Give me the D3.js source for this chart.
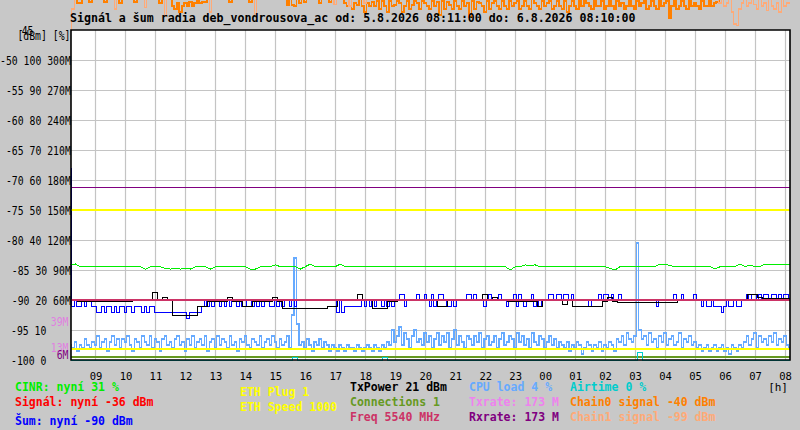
<!DOCTYPE html>
<html>
<head>
<meta charset="utf-8">
<script src="https://d3js.org/d3.v7.min.js"></script>
<style>
html,body{margin:0;padding:0;background:#c8c8c8;}
svg{display:block;}
text{font-family:"DejaVu Sans Mono",monospace;}
</style>
</head>
<body>
<svg id="chart" width="800" height="430"></svg>
<script>
// ================= DATA =================
const titleText = "Signál a šum radia deb_vondrousova_ac od: 5.8.2026 08:11:00 do: 6.8.2026 08:10:00";
const rangeStart = new Date(2026, 7, 5, 8, 11);
const rangeEnd = new Date(2026, 7, 6, 8, 10);
const seriesStart = new Date(2026, 7, 5, 8, 10);

// left axis tick labels (dBm / % / M)
const dbmTicks = [-50, -55, -60, -65, -70, -75, -80, -85, -90, -95, -100];
const pctTickLabels = ["100", "90", "80", "70", "60", "50", "40", "30", "20", "10", "0"];
const mTickLabels = ["300M", "270M", "240M", "210M", "180M", "150M", "120M", "90M", "60M", "", ""];
const unitLabel = "[dBm] [%]";
const topLabel = "45";
const rateMarkLabels = ["39M", "13M", "6M"];
const rateMarkValues = [39, 13, 6];
const hourUnit = "[h]";

// legend
const legendTexts = ["CINR: nyní 31 %", "Signál: nyní -36 dBm", "Šum: nyní -90 dBm",
  "ETH Plug 1", "ETH Speed 1000",
  "TxPower 21 dBm", "Connections 1", "Freq 5540 MHz",
  "CPU load 4 %", "Txrate: 173 M", "Rxrate: 173 M",
  "Airtime 0 %", "Chain0 signal -40 dBm", "Chain1 signal -99 dBm"];

// CINR [%], every 10 min
const cinr = [31.7,32,31.1,31.1,31.1,31.1,31.1,31.1,31.1,31.1,
  31.1,31.1,31.1,31.1,31.1,30.3,31.1,31.1,31.1,30.5,
  30.3,30.5,30.3,30.5,30.3,31.1,31.1,31.1,30.3,31.1,
  31.1,31.1,31.1,31.1,31.1,31.1,30.3,30.3,31.1,31.1,
  31.1,31.7,31.1,31.1,31.1,31.1,30.3,31.1,32,31.1,
  31.1,31.1,31.1,31.1,32,31.1,31.1,31.1,31.1,31.1,
  31.1,31.1,31.1,31.1,31.1,31.1,31.1,31.1,31.1,31.1,
  31.1,31.1,31.1,31.1,31.1,31.1,31.1,31.1,31.1,31.1,
  31.1,31.1,31.1,31.1,31.1,31.1,31.1,31.1,30,31.1,
  31.1,31.7,31.5,31.7,31.1,31.1,31.1,31.1,31.1,31.1,
  31.1,31.1,31.1,31.1,31.1,31.1,31.1,31.1,30.5,30,
  31.1,31.1,31.1,31.1,31.1,31.1,31.1,31.1,32,32,
  31.5,31.1,31.1,31.1,31.1,31.1,31.1,31.1,31.1,30.3,
  31.1,31.1,31.1,31.1,32,31.1,31.7,31.1,31.1,32,
  31.8,32,32,32,32];

// Šum (noise) [dBm], every 5 min
const noise = [-68,
  -91,-90,-91,-91,-90,-91,-90,-90,-91,-91,
  -92,-92,-91,-92,-91,-91,-92,-91,-92,-91,
  -91,-92,-91,-91,-92,-91,-91,-91,-92,-91,
  -92,-91,-91,-92,-92,
  -92,-92,-92,-92,-92,-92,-92,-92,-92,-92,
  -92,-93,-92,-92,-92,-92,-92,-91,
  -90,-91,-90,-91,-90,-90,-91,-90,-91,-90,
  -91,-90,-90,-91,-90,-91,-91,-90,-90,-91,
  -90,-91,-90,-91,-90,-90,-91,-91,-90,-91,
  -90,-91,-90,-90,-91,-90,-91,
  -90,-90,-90,-90,-90,-90,-90,-90,-90,-90,-90,-90,-90,-90,-90,-90,
  -92,-90,-92,-91,-91,-91,-91,-91,-91,-91,
  -90,-91,-90,-91,-90,-91,-90,-90,-91,-90,-91,-90,-91,-90,
  -90,-89,-89,-91,-90,-90,-90,-90,-89,-90,
  -90,-89,-90,-91,-89,-91,-90,-89,-89,-90,
  -91,-91,-90,-91,-90,-90,-90,-90,-89,-89,
  -90,-89,-90,-90,-90,-91,-90,-89,-90,-90,
  -90,-89,-90,-90,-91,-90,-90,-89,-91,-89,
  -90,-91,-90,-90,-89,-91,-90,-91,-90,-90,
  -90,-89,-89,-90,-89,
  -89,-90,-89,-89,-90,-89,-90,-90,
  -90,-90,-90,-90,-91,-90,-90,-90,
  -89,-90,-89,-89,-90,-89,-90,-90,-89,-90,
  -90,-90,-90,-90,-90,-90,-90,-90,-90,-90,-90,-90,
  -90,-91,-90,
  -90,-90,-90,-90,-90,
  -89,-90,-90,-89,-90,-90,
  -90,-90,-89,-90,-90,
  -91,-90,-91,-91,-90,-91,-91,-91,-92,-91,-90,-91,-91,-90,-91,-91,-90,
  -90,-89,-90,-89,-89,-90,-89,-90,-89,-89,-90,-89,-89,-90,-89,-90,-89,-89,-90];

// TxPower (plotted on % axis), every 10 min
const txPower = [20,20,19.4,19.4,19.4,19.4,19.4,19.4,19.4,19.4,
  19.4,19.4,19.4,20,20,20,20,22.5,20,21,
  20,15,15,15,15,15,17.7,17.7,19.4,19.4,
  19.4,19.4,21,19.4,19.4,18,18,19.4,19.4,19.4,
  19.4,21,19.4,17.3,17.3,17.3,17.3,17.3,17.3,17.3,
  17.3,17.3,18,18,20,20,20,20,22,20,
  20,17.3,17.3,17.3,19.4,19.4,20,20,20,20,
  20,20,20,20,18,18,20,20,20,20,
  20,20,20,22,20,21,20,20,19.4,19.4,
  19.4,19.4,19.4,19.4,18,20,20,20,20,18.5,
  20,18,18,18,18,18,18,19.4,21,19.4,
  19.2,19.2,19.2,19.2,19.2,19.2,19.2,19.2,19.2,19.2,
  19.2,19.2,20,20,20,20,20,20,20,20,
  20,20,20,20,20,20,22,22,21,20.6,
  20.6,20.6,20.6,20.6,20.6];

// CPU load [%], every 5 min
const cpuLoad = [5,4,6,3,5,4,7,5,4,6,
  5,8,4,6,7,3,6,8,5,7,
  4,7,6,8,5,3,7,6,4,8,
  6,5,8,4,7,6,3,7,8,5,
  6,4,7,8,5,6,3,7,5,8,
  4,6,7,5,8,3,6,7,4,8,
  5,7,6,4,8,5,6,3,7,6,
  8,5,4,7,6,5,8,4,6,7,
  5,8,6,4,7,5,6,8,4,15,
  34,12,5,6,4,7,5,3,6,5,
  7,4,6,5,3,5,4,3,5,4,
  3,5,4,4,3,5,4,3,4,5,
  4,3,5,4,3,5,4,6,5,10,
  6,8,11,5,9,7,4,8,10,6,
  7,5,9,6,8,4,7,9,5,8,
  6,9,4,7,10,5,8,6,4,8,
  7,5,8,6,9,4,7,8,5,6,
  8,4,7,9,5,6,8,7,4,9,
  6,8,5,7,4,9,6,5,8,7,
  4,6,8,5,7,4,6,5,4,6,
  3,5,4,6,5,2,4,6,5,3,
  5,4,6,3,5,4,6,5,3,7,
  6,8,5,9,7,6,8,39,10,7,
  8,5,9,6,7,4,8,6,9,5,
  7,8,5,6,9,4,7,6,8,5,
  6,4,5,3,4,5,3,4,5,3,
  4,5,3,4,2,5,4,3,5,4,
  6,8,5,7,9,4,8,6,7,5,
  8,6,9,5,7,6,8,5,4];

// Airtime [%], every 10 min
const airtime = [0,0,0,0,0,0,0,0,0,0, 0,0,0,0,0,0,0,0,0,0, 0,0,0,0,0,0,0,0,0,0,
  0,0,0,0,0,0,0,0,0,0, 0,0,0,0,0,1,0,0,0,0, 0,0,0,0,0,0,0,0,0,0,
  0,0,0,1,0,0,0,0,0,0, 0,0,0,0,0,0,0,0,0,0, 0,0,0,0,0,0,0,0,0,0,
  0,0,0,0,0,0,0,0,0,0, 0,0,0,0,0,0,0,0,0,0, 0,0,0,0,2.5,0,0,0,0,0,
  0,0,0,0,0,0,0,0,0,0, 0,0,0,0,0,0,0,0,0,0, 0,0,0,0,0];

// Chain0 / Chain1 signal [dBm], every 5 min
const chain0 = [-39,-39,-39,-40.5,-40.5,-39,-39,-39,-40.3,-39,
  -39,-39,-39,-39,-40.3,-39,-39,-39,-39,-39,
  -40.5,-39,-39,-39,-39,-39,-40.3,-39,-39,-39,
  -39,-39,-39,-39,-39,-39,-40.5,-39,-39,-39,
  -39,-41,-41.5,-40.5,-42,-41,-40.5,-41,-40.3,-41,
  -40.5,-39,-40.5,-40.3,-40.3,-39,-39,-39,-39,-39,
  -39,-39,-39,-39,-40.3,-39,-39,-39,-39,-39,
  -39,-39,-40.3,-39,-39,-39,-39,-39,-39,-39,
  -39,-39,-39,-39,-39,-39,-39,-40.8,-39,-40.8,
  -41,-39,-40.5,-39,-40.3,-39,-39,-39,-39,-39,
  -40.5,-39,-39,-39,-40.3,-39,-39,-39,-39,-39,
  -40.5,-41,-39,-41.5,-40.5,-40.8,-39,-41,-42,-40.5,
  -41,-40.3,-41,-40.2,-41.5,-40.2,-41,-42,-40.2,-41,
  -40.8,-40.2,-40.5,-42,-41,-40.2,-41.5,-40.8,-40.2,-40.5,
  -41.5,-40.2,-40.5,-41,-41.5,-40.2,-41,-40.3,-42.5,-40.2,
  -41.5,-40.3,-40.8,-41.5,-40.2,-41,-41.5,-40.2,-41,-40.5,
  -42.8,-40.2,-41.5,-40.3,-40.5,-41,-42,-40.2,-41.5,-40.5,
  -40.2,-41,-41.5,-40.2,-41,-41.5,-40.2,-41,-40.5,-40.2,
  -41.5,-41,-40.2,-41,-41.5,-39,-40.5,-41,-41.5,-40.2,
  -41,-40.5,-40.2,-41.5,-41,-40.2,-41,-41.5,-40.2,-42,
  -41,-40.2,-41,-41.5,-40.2,-41,-39,-40.5,-41,-41.5,
  -40.2,-41,-41,-40.2,-41.5,-41,-40.2,-41,-41.5,-40.2,
  -41,-40.5,-41.5,-41,-40.2,-41,-41.5,-40.2,-41,-40.5,
  -40.2,-41.5,-41,-40.2,-41,-41.5,-40.2,-41,-40.5,-40.2,
  -43,-41,-40.2,-41.5,-41,-40.2,-41,-41.5,-40.2,-41,
  -40.5,-41,-41.5,-40.2,-41,-41,-40.2,-41,-40.5,-40.3,
  -39,-39,-39,-39,-39,-39,-39,-39,-39,-39,
  -39,-39,-39,-39,-39,-39,-39,-39,-39,-39,
  -39,-39,-39,-39,-39,-39,-39,-39,-39];
const chain1 = [-45,-41.5,-39,-39,-39,-39,-39,-39,-39,-39,
  -39,-39,-39,-39,-39,-39,-39,-39,-41.5,-39,
  -39,-39,-39,-39,-39,-39,-39,-39,-39,-39,
  -41.3,-39,-39,-39,-39,-39,-39,-39,-42.8,-39,
  -39,-39,-39,-39,-39,-39,-39,-39,-39,-39,
  -39,-39,-39,-39,-39,-39,-42,-39,-39,-39,
  -39,-39,-39,-39,-39,-39,-39,-39,-39,-39,
  -39,-39,-39,-39,-42.8,-39,-39,-39,-39,-39,
  -39,-39,-39,-39,-39,-39,-39,-39,-39,-39,
  -39,-39,-39,-39,-39,-39,-39,-39,-39,-39,
  -39,-39,-39,-39,-39,-39,-40.8,-39,-39,-39,
  -39,-39,-41,-39,-39,-39,-39,-39,-40.5,-39,
  -39,-39,-39,-39,-39,-39,-39,-39,-39,-39,
  -39,-39,-39,-39,-39,-39,-39,-39,-39,-39,
  -39,-39,-39,-39,-39,-39,-39,-39,-39,-39,
  -39,-39,-39,-39,-39,-39,-39,-39,-39,-39,
  -39,-39,-39,-39,-39,-39,-39,-39,-39,-39,
  -39,-39,-39,-39,-39,-39,-39,-39,-39,-39,
  -39,-39,-39,-39,-39,-39,-39,-39,-39,-39,
  -39,-39,-39,-39,-39,-39,-39,-39,-39,-39,
  -39,-39,-39,-39,-39,-39,-39,-39,-39,-39,
  -39,-39,-39,-39,-39,-39,-39,-39,-39,-39,
  -39,-39,-39,-39,-39,-39,-39,-39,-39,-39,
  -39,-39,-39,-39,-39,-39,-39,-39,-39,-39,
  -39,-39,-39,-39,-39,-39,-39,-39,-39,-39,
  -39,-39,-39,-39,-39,-39,-39,-39,-39,-39,
  -40.5,-39,-41,-40.5,-39,-42,-44,-44.2,-41.5,-40.5,
  -39,-41,-40.5,-39,-40.8,-41.5,-39,-41,-40.5,-41.8,
  -39,-41,-41.5,-40.5,-42,-39,-41,-40.5,-40.5];

// constant series (start, end)
const txrate = [173, 173];       // M
const rxrate = [173, 173];       // M
const ethSpeed = [150, 150];     // M axis position
const ethPlug = [11, 11];        // M axis position
const connections = [1, 1];      // %
const freq = [60, 60];           // M axis position

// ================= COLORS =================
const C = {
  bg: "#c8c8c8", grid: "#c4c4c4",
  cinr: "#00ee00", signal: "#ff0000", noise: "#0000ff", eth: "#ffff00",
  tx: "#000000", conn: "#669922", freq: "#cc3366", cpu: "#66aaff",
  txrate: "#ee82ee", rxrate: "#800080", airtime: "#00cccc",
  chain0: "#ff8000", chain1: "#ffaa77", pink: "#e080e0"
};
const legendColors = [C.cinr, C.signal, C.noise, C.eth, C.eth, C.tx, C.conn, C.freq,
  C.cpu, C.txrate, C.rxrate, C.airtime, C.chain0, C.chain1];
const legendPos = [[15,391],[15,406],[15,425],[240,396],[240,411],[350,391],[350,406],[350,421],
  [469,391],[469,406],[469,421],[570,391],[570,406],[570,421]];

// ================= SCALES =================
const svg = d3.select("#chart");
const L = 71, R = 790, T = 30, B = 360;
const x = d3.scaleTime().domain([rangeStart, rangeEnd]).range([L, R]);
const yDbm = d3.scaleLinear().domain([-100, -45]).range([B, T]);
const yPct = d3.scaleLinear().domain([0, 110]).range([B, T]);
const yM = d3.scaleLinear().domain([0, 330]).range([B, T]);

svg.append("rect").attr("width", 800).attr("height", 430).attr("fill", C.bg);
svg.append("rect").attr("x", L).attr("y", T).attr("width", R - L).attr("height", B - T).attr("fill", "#ffffff");

// grid
const hourTicks = x.ticks(d3.timeHour.every(1));
svg.append("g").selectAll("line").data(hourTicks).join("line")
  .attr("x1", d => Math.round(x(d)) + 0.5).attr("x2", d => Math.round(x(d)) + 0.5)
  .attr("y1", T).attr("y2", B).attr("stroke", C.grid).attr("stroke-width", 1.2);
svg.append("g").selectAll("line").data(dbmTicks.slice(0, -1)).join("line")
  .attr("x1", L).attr("x2", R).attr("y1", d => yDbm(d) + 0.5).attr("y2", d => yDbm(d) + 0.5)
  .attr("stroke", C.grid).attr("stroke-width", 1.2);

// series helper
function draw(values, stepMin, yScale, color, curve, width, crisp) {
  const pts = values.map((v, i) => [x(d3.timeMinute.offset(seriesStart, i * stepMin)), yScale(v)]);
  const p = svg.append("path").attr("d", d3.line().curve(curve)(pts))
    .attr("fill", "none").attr("stroke", color).attr("stroke-width", width || 1);
  if (crisp !== false) p.attr("shape-rendering", "crispEdges");
}
const DAY = 1440;
draw(cpuLoad, 5, yPct, C.cpu, d3.curveStep, 1.2);
draw(noise, 5, yDbm, C.noise, d3.curveStep, 1);
draw(txPower, 10, yPct, C.tx, d3.curveStep, 1);
draw(cinr, 10, yPct, C.cinr, d3.curveLinear, 1);
draw(txrate, DAY, yM, C.txrate, d3.curveLinear, 1);
draw(rxrate, DAY, yM, C.rxrate, d3.curveLinear, 1);
draw(ethSpeed, DAY, yM, C.eth, d3.curveLinear, 1.3);
draw(ethPlug, DAY, yM, C.eth, d3.curveLinear, 1.3);
draw(connections, DAY, yPct, C.conn, d3.curveLinear, 1.3);
draw(freq, DAY, yM, C.freq, d3.curveLinear, 1.3);
draw(airtime, 10, yPct, C.airtime, d3.curveStep, 1);
draw(chain0, 5, yDbm, C.chain0, d3.curveStep, 1.8);
draw(chain1, 5, yDbm, C.chain1, d3.curveStep, 1.2);

// frame
svg.append("path").attr("d", `M${L},${T}H${R}V${B}H${L}Z`).attr("fill", "none")
  .attr("stroke", "#000").attr("stroke-width", 1.6);

// ================= TEXT =================
const CW = 5.9;
function axisText(str, xEnd, y, color) {
  svg.append("text").attr("x", xEnd).attr("y", y).attr("text-anchor", "end")
    .attr("font-size", 11.5).attr("fill", color || "#000")
    .attr("textLength", str.length * CW).attr("lengthAdjust", "spacingAndGlyphs")
    .text(str);
}
dbmTicks.forEach((d, i) => {
  const parts = [String(d), pctTickLabels[i]];
  if (mTickLabels[i]) parts.push(mTickLabels[i]);
  const s = parts.join(" ");
  const missing = mTickLabels[i] ? 0 : 4;
  axisText(s, 70.8 - missing * 6.1, yDbm(d) + 5);
});
axisText(topLabel, 33.5, 35);
axisText(unitLabel, 70.5, 40);
rateMarkLabels.forEach((s, i) => axisText(s, 68.5, yM(rateMarkValues[i]) + 4.5, i === 2 ? C.rxrate : C.pink));

svg.append("g").selectAll("text").data(hourTicks).join("text")
  .attr("x", d => x(d) + 0.5).attr("y", 380).attr("text-anchor", "middle")
  .attr("font-size", 10.5).attr("fill", "#000").text(d3.timeFormat("%H"));
svg.append("text").attr("x", 788).attr("y", 391).attr("text-anchor", "end")
  .attr("font-size", 11).attr("fill", "#000").text(hourUnit);

svg.append("text").attr("x", 70).attr("y", 22).attr("font-size", 11.6).attr("font-weight", "bold")
  .attr("fill", "#000").text(titleText);

legendTexts.forEach((s, i) => {
  svg.append("text").attr("x", legendPos[i][0]).attr("y", legendPos[i][1])
    .attr("font-size", 11.5).attr("font-weight", "bold").attr("fill", legendColors[i]).text(s);
});
</script>
</body>
</html>
